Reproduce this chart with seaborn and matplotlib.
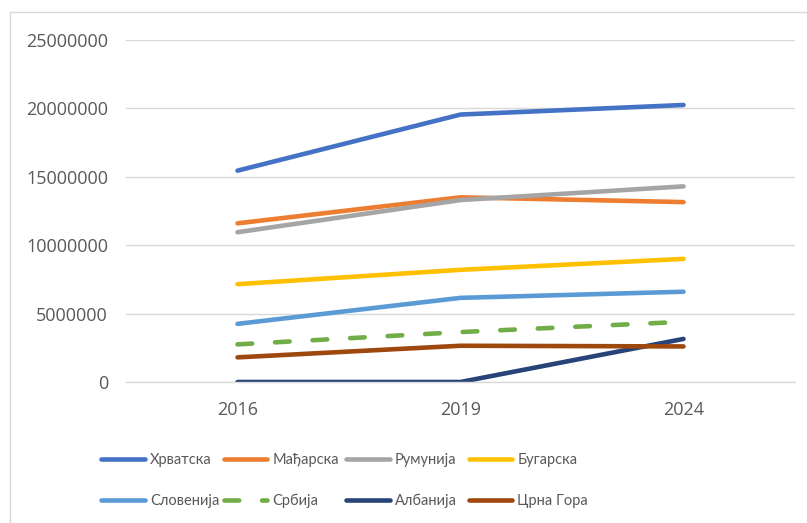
import pandas as pd
import numpy as np
import matplotlib.pyplot as plt
import seaborn as sns
from matplotlib.ticker import FuncFormatter
from matplotlib.patches import Rectangle

sns.set_theme(style="white")
plt.rcParams['font.family'] = ['Open Sans', 'DejaVu Sans']

# Data
years = ['2016', '2019', '2024']
countries = ['Хрватска', 'Мађарска', 'Румунија', 'Бугарска',
             'Словенија', 'Србија', 'Албанија', 'Црна Гора']
hrvatska = [15450000, 19550000, 20250000]
madjarska = [11600000, 13500000, 13150000]
rumunija = [10950000, 13300000, 14300000]
bugarska = [7150000, 8200000, 9000000]
slovenija = [4250000, 6150000, 6600000]
srbija = [2750000, 3650000, 4400000]
albanija = [0, 0, 3150000]
crna_gora = [1800000, 2650000, 2600000]
colors = ['#4472C4', '#ED7D31', '#A5A5A5', '#FFC000',
          '#5B9BD5', '#70AD47', '#264478', '#9E480E']

series = [hrvatska, madjarska, rumunija, bugarska,
          slovenija, srbija, albanija, crna_gora]
df = pd.DataFrame({
    'year': years * len(countries),
    'country': np.repeat(countries, len(years)),
    'value': np.concatenate(series),
})

fig = plt.figure(figsize=(8.07, 5.23), dpi=100)
ax = fig.add_axes([126 / 807, 1 - 382 / 523, (795 - 126) / 807, (382 - 40) / 523])

dashes = {c: '' for c in countries}
dashes['Србија'] = (3.2, 5)
sns.lineplot(data=df, x='year', y='value', hue='country', style='country',
             hue_order=countries, style_order=countries,
             palette=dict(zip(countries, colors)), dashes=dashes,
             linewidth=3.3, sort=False, legend=False, ax=ax)
for ln in ax.lines:
    ln.set_solid_capstyle('round')
    ln.set_dash_capstyle('round')

ax.set_xlim(-0.5, 2.5)
ax.set_ylim(0, 25000000)
ax.set_yticks(np.arange(0, 25000001, 5000000))
ax.yaxis.set_major_formatter(FuncFormatter(lambda v, p: f'{v:.0f}'))
ax.grid(axis='y', color='#D9D9D9', linewidth=1.0)
ax.set_axisbelow(True)
for s in ['top', 'right', 'left']:
    ax.spines[s].set_visible(False)
ax.spines['bottom'].set_color('#D9D9D9')
ax.spines['bottom'].set_linewidth(1.0)
ax.tick_params(axis='y', length=0, pad=13, labelsize=13, labelcolor='#595959')
ax.tick_params(axis='x', length=0, pad=14, labelsize=13, labelcolor='#595959')
ax.set_xlabel('')
ax.set_ylabel('')

# legend: 4 columns x 2 rows, one legend per column so columns sit evenly
leg_font = {'family': ['Lato', 'DejaVu Sans'], 'size': 10.5}
for j in range(4):
    idx = [j, j + 4]
    leg = fig.legend([ax.lines[i] for i in idx], [countries[i] for i in idx],
                     loc='upper left',
                     bbox_to_anchor=((101 + 122.5 * j) / 807, 1 - 453 / 523),
                     frameon=False, prop=leg_font, labelcolor='#595959',
                     handlelength=3.0, handletextpad=0.35,
                     labelspacing=1.85, borderaxespad=0, borderpad=0)

# chart border (top/left visible in the crop)
fig.patches.append(Rectangle((10 / 807, -0.1), 1.2, 1 - 12 / 523 + 0.1,
                             transform=fig.transFigure, fill=False,
                             edgecolor='#D9D9D9', linewidth=1.0))

fig.savefig('out.png', dpi=100)
